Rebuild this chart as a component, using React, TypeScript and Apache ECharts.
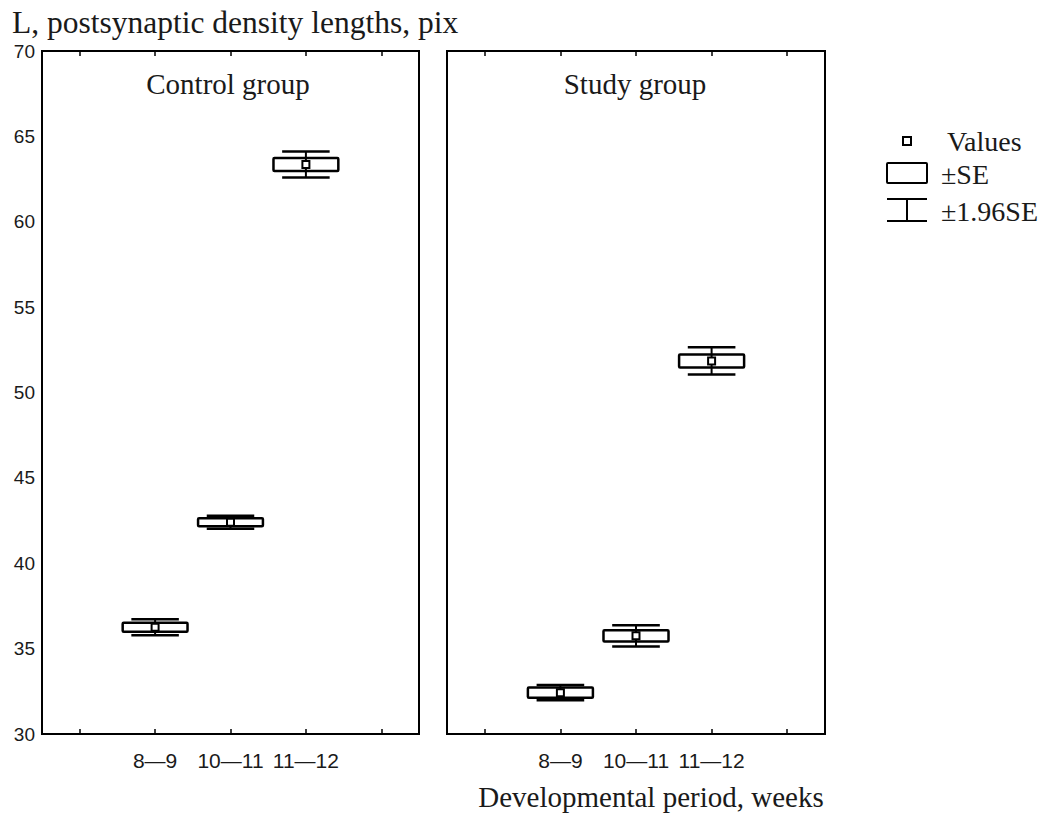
import React, { useEffect, useRef } from "react";
import * as echarts from "echarts";

const categories = ["", "8—9", "10—11", "11—12", ""];
const yTicks = [30, 35, 40, 45, 50, 55, 60, 65, 70];

const controlMeans = [36.25, 42.4, 63.35];
const controlSE = [0.26, 0.24, 0.38];
const controlCI = [0.47, 0.38, 0.76];

const studyMeans = [32.42, 35.75, 51.85];
const studySE = [0.3, 0.33, 0.38];
const studyCI = [0.45, 0.62, 0.8];

const panelTitles = ["Control group", "Study group"];
const yTitle = "L, postsynaptic density lengths, pix";
const xTitle = "Developmental period, weeks";
const legendLabels = ["Values", "±SE", "±1.96SE"];

const SERIF = "'Liberation Serif', 'DejaVu Serif', serif";
const SANS = "'Liberation Sans', Arial, sans-serif";

function buildData(means: number[], se: number[], ci: number[]) {
  return means.map((m, i) => [i + 1, m, se[i], ci[i]]);
}

const renderItem = (params: any, api: any) => {
  const x = api.value(0);
  const mean = api.value(1);
  const se = api.value(2);
  const ci = api.value(3);
  const c = api.coord([x, mean]);
  const seTop = api.coord([x, mean + se])[1];
  const seBot = api.coord([x, mean - se])[1];
  const ciTop = api.coord([x, mean + ci])[1];
  const ciBot = api.coord([x, mean - ci])[1];
  const bw = api.size([1, 0])[0];
  const boxW = bw * 0.86;
  const capW = bw * 0.63;
  const stroke = { stroke: "#000", lineWidth: 2.5, fill: null };
  return {
    type: "group",
    children: [
      {
        type: "line",
        shape: { x1: c[0] - capW / 2, y1: ciTop, x2: c[0] + capW / 2, y2: ciTop },
        style: stroke,
      },
      {
        type: "line",
        shape: { x1: c[0] - capW / 2, y1: ciBot, x2: c[0] + capW / 2, y2: ciBot },
        style: stroke,
      },
      {
        type: "rect",
        shape: { x: c[0] - boxW / 2, y: seTop, width: boxW, height: seBot - seTop, r: 1 },
        style: { stroke: "#000", lineWidth: 2.5, fill: "#fff" },
      },
      {
        type: "line",
        shape: { x1: c[0], y1: ciTop, x2: c[0], y2: ciBot },
        style: { stroke: "#000", lineWidth: 2 },
      },
      {
        type: "rect",
        shape: { x: c[0] - 3.5, y: c[1] - 3.5, width: 7, height: 7 },
        style: { stroke: "#000", lineWidth: 2, fill: "#fff" },
      },
    ],
  };
};

export default function App() {
  const ref = useRef<HTMLDivElement>(null);

  useEffect(() => {
    if (!ref.current) return;
    const chart = echarts.init(ref.current, null, { renderer: "svg" });

    const grids = [
      { left: 42, top: 51, width: 377, height: 683 },
      { left: 447, top: 51, width: 378, height: 683 },
    ];

    const xAxes: any[] = [];
    const yAxes: any[] = [];
    grids.forEach((_, gi) => {
      xAxes.push({
        type: "category",
        gridIndex: gi,
        position: "bottom",
        data: categories,
        boundaryGap: true,
        axisLine: { show: false },
        axisTick: { show: true, inside: true, alignWithLabel: true, length: 5, lineStyle: { color: "#000", width: 1.5 } },
        axisLabel: { show: true, interval: 0, color: "#1a1a1a", fontFamily: SANS, fontSize: 21, margin: 16 },
        splitLine: { show: false },
      });
      xAxes.push({
        type: "category",
        gridIndex: gi,
        position: "top",
        data: categories,
        boundaryGap: true,
        axisLine: { show: false },
        axisTick: { show: true, inside: true, alignWithLabel: true, length: 5, lineStyle: { color: "#000", width: 1.5 } },
        axisLabel: { show: false },
        splitLine: { show: false },
      });
      yAxes.push({
        type: "value",
        gridIndex: gi,
        min: 30,
        max: 70,
        interval: 5,
        axisLine: { show: false },
        axisTick: { show: false },
        axisLabel: {
          show: gi === 0,
          color: "#1a1a1a",
          fontFamily: SANS,
          fontSize: 19,
          margin: 7,
          formatter: (v: number) => (yTicks.includes(v) ? String(v) : ""),
        },
        splitLine: { show: false },
      });
    });

    const option: any = {
      animation: false,
      backgroundColor: "#fff",
      grid: grids.map((g) => ({ ...g, show: true, borderColor: "#000", borderWidth: 2, backgroundColor: "transparent" })),
      xAxis: xAxes,
      yAxis: yAxes,
      series: [
        {
          type: "custom",
          name: panelTitles[0],
          xAxisIndex: 0,
          yAxisIndex: 0,
          renderItem,
          encode: { x: 0, y: 1 },
          data: buildData(controlMeans, controlSE, controlCI),
        },
        {
          type: "custom",
          name: panelTitles[1],
          xAxisIndex: 2,
          yAxisIndex: 1,
          renderItem,
          encode: { x: 0, y: 1 },
          data: buildData(studyMeans, studySE, studyCI),
        },
      ],
      graphic: [
        {
          type: "text",
          x: 12,
          y: 22,
          style: { text: yTitle, fill: "#1a1a1a", font: `31.5px ${SERIF}`, verticalAlign: "middle" },
        },
        {
          type: "text",
          x: 228,
          y: 84,
          style: { text: panelTitles[0], fill: "#1a1a1a", font: `29px ${SERIF}`, align: "center", verticalAlign: "middle" },
        },
        {
          type: "text",
          x: 635,
          y: 84,
          style: { text: panelTitles[1], fill: "#1a1a1a", font: `29px ${SERIF}`, align: "center", verticalAlign: "middle" },
        },
        {
          type: "text",
          x: 651,
          y: 797,
          style: { text: xTitle, fill: "#1a1a1a", font: `29px ${SERIF}`, align: "center", verticalAlign: "middle" },
        },
        // legend
        {
          type: "rect",
          shape: { x: 903, y: 137, width: 8, height: 8 },
          style: { stroke: "#000", lineWidth: 2, fill: "#fff" },
        },
        {
          type: "text",
          x: 947,
          y: 141,
          style: { text: legendLabels[0], fill: "#1a1a1a", font: `28px ${SERIF}`, verticalAlign: "middle" },
        },
        {
          type: "rect",
          shape: { x: 887, y: 163, width: 40, height: 20, r: 1 },
          style: { stroke: "#000", lineWidth: 2, fill: "#fff" },
        },
        {
          type: "text",
          x: 941,
          y: 174,
          style: { text: legendLabels[1], fill: "#1a1a1a", font: `28px ${SERIF}`, verticalAlign: "middle" },
        },
        {
          type: "line",
          shape: { x1: 887, y1: 199, x2: 927, y2: 199 },
          style: { stroke: "#000", lineWidth: 2 },
        },
        {
          type: "line",
          shape: { x1: 887, y1: 221, x2: 927, y2: 221 },
          style: { stroke: "#000", lineWidth: 2 },
        },
        {
          type: "line",
          shape: { x1: 907, y1: 199, x2: 907, y2: 221 },
          style: { stroke: "#000", lineWidth: 2 },
        },
        {
          type: "text",
          x: 941,
          y: 211,
          style: { text: legendLabels[2], fill: "#1a1a1a", font: `28px ${SERIF}`, verticalAlign: "middle" },
        },
      ],
    };

    chart.setOption(option);
    return () => chart.dispose();
  }, []);

  return (
    <div
      ref={ref}
      style={{ position: "fixed", left: 0, top: 0, width: 1059, height: 816, background: "#fff" }}
    />
  );
}
